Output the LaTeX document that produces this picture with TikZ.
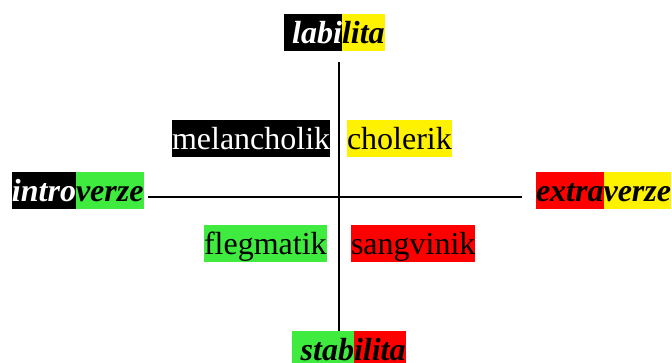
\documentclass[tikz,border=0pt]{standalone}
\usepackage{fontspec}
\setmainfont{Liberation Serif}
\definecolor{grassgreen}{RGB}{64,235,64}
\tikzstyle{every node}=[inner sep=0pt, outer sep=0pt, text height=29pt, text depth=8pt, anchor=north west, font=\fontsize{32pt}{38pt}\selectfont]
\tikzstyle{pole}=[font=\fontsize{32pt}{38pt}\selectfont\bfseries\itshape]
\tikzstyle{onblack}=[fill=black, text=white]
\tikzstyle{onyellow}=[fill=yellow, text=black]
\tikzstyle{ongreen}=[fill=grassgreen, text=black]
\tikzstyle{onred}=[fill=red, text=black]

\begin{document}
\begin{tikzpicture}[x=1pt, y=-1pt, line width=2pt]
\useasboundingbox (0,0) rectangle (672,362);
% Axis ends
    \coordinate (north) at (338.5,62);
    \coordinate (south) at (338.5,331);
    \coordinate (west) at (148,196.5);
    \coordinate (east) at (522,196.5);
% Axes
    \draw (north) -- (south);
    \draw (west) -- (east);
% Poles
    \node[pole, onblack, text width=58pt, align=right] (labi) at (284,14) {labi};
    \node[pole, onyellow] (lita) at (labi.north east) {lita};
    \node[pole, onblack] (intro) at (12,172) {intro};
    \node[pole, ongreen] (verzeL) at (intro.north east) {verze};
    \node[pole, onred] (extra) at (536,172) {extra};
    \node[pole, onyellow] (verzeR) at (extra.north east) {verze};
    \node[pole, ongreen, text width=62pt, align=right] (stab) at (292,331) {stab};
    \node[pole, onred] (ilita) at (stab.north east) {ilita};
% Temperaments
    \node[onblack] (melancholik) at (172,120) {melancholik};
    \node[onyellow] (cholerik) at (347,120) {cholerik};
    \node[ongreen] (flegmatik) at (204,225) {flegmatik};
    \node[onred] (sangvinik) at (351,225) {sangvinik};
\end{tikzpicture}
\end{document}
